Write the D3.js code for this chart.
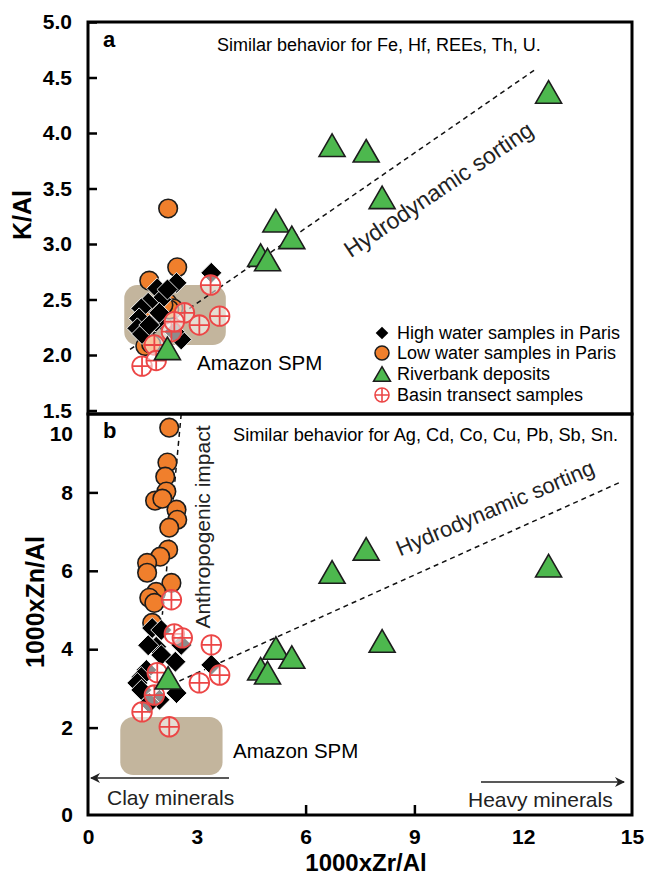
<!DOCTYPE html>
<html><head><meta charset="utf-8">
<script src="https://cdn.jsdelivr.net/npm/d3@7"></script>
<style>
body{margin:0;background:#fff}
svg text{font-family:"Liberation Sans",Arial,Helvetica,sans-serif}
</style>
</head><body>
<svg id="chart" width="647" height="876"></svg>
<script>
// ---------- data ----------
const xTicks = [0, 3, 6, 9, 12, 15];
const yTicksA = [1.5, 2.0, 2.5, 3.0, 3.5, 4.0, 4.5, 5.0];
const yTicksB = [0, 2, 4, 6, 8, 10];

// panel a: K/Al vs 1000xZr/Al
const highA = [[3.40,2.74],[1.91,2.60],[2.44,2.65],[2.02,2.50],[1.66,2.47],[1.47,2.42],[1.41,2.33],[1.88,2.30],[1.36,2.24],[1.49,2.19],[2.57,2.14],[2.38,2.21],[1.97,2.38],[1.69,2.27],[2.19,2.59]];
const lowA = [[2.21,3.32],[2.46,2.79],[1.69,2.67],[2.19,2.47],[2.35,2.42],[2.24,2.41],[1.72,2.38],[1.58,2.08],[1.74,2.10],[2.08,2.45]];
const bankA = [[12.70,4.37],[6.73,3.89],[7.67,3.84],[8.11,3.42],[5.18,3.21],[5.62,3.06],[4.76,2.90],[4.95,2.86],[2.19,2.06]];
const basinA = [[3.38,2.63],[2.66,2.38],[3.07,2.27],[3.63,2.35],[2.30,2.21],[1.83,2.09],[1.49,1.90],[1.88,1.95],[2.38,2.30]];

// panel b: 1000xZn/Al vs 1000xZr/Al
const highB = [[1.77,4.54],[2.02,4.49],[1.88,4.06],[2.57,4.11],[2.02,3.85],[2.41,3.68],[1.61,3.47],[1.47,3.29],[1.36,3.14],[1.47,2.96],[1.97,2.71],[2.44,2.88],[3.40,3.60],[1.69,2.63],[1.66,4.10]];
const lowB = [[2.24,9.65],[2.19,8.76],[2.13,8.40],[2.16,8.02],[1.85,7.79],[2.05,7.84],[2.44,7.56],[2.46,7.30],[2.24,7.10],[2.21,6.54],[1.99,6.36],[1.63,6.20],[1.63,5.95],[2.30,5.69],[1.88,5.46],[1.69,5.31],[1.83,5.18],[1.77,4.67]];
const bankB = [[12.70,6.13],[7.67,6.56],[6.73,5.97],[8.11,4.21],[5.18,4.03],[5.62,3.80],[4.76,3.50],[4.95,3.40],[2.21,3.27]];
const basinB = [[2.30,5.26],[2.38,4.39],[2.60,4.29],[3.40,4.11],[3.63,3.34],[3.07,3.14],[1.91,3.40],[1.83,2.83],[1.49,2.40],[2.24,2.02]];

// trend lines and reference fields
const trendA = [[1.16,2.05],[12.37,4.58]];
const trendB = [[2.52,3.19],[14.70,8.27]];
const anthroB = [[2.57,10.0],[2.05,4.88]];
const amazonA = [[1.0,2.09],[3.8,2.63]];
const amazonB = [[0.89,0.79],[3.71,2.27]];

const legendLabels = ["High water samples in Paris","Low water samples in Paris","Riverbank deposits","Basin transect samples"];

// ---------- layout ----------
const L = 88, R = 632, TOP = 22, MID = 414, BOT = 815;
const svg = d3.select("#chart");
const x = d3.scaleLinear().domain([0,15]).range([L, R]);
const yA = d3.scaleLinear().domain([1.5,5.0]).range([410.5, TOP]);
const yB = d3.scaleLinear().domain([0,10]).range([806, MID]);

const ORANGE = "#f07f2c", GREEN = "#4db84e", RED = "#ec4646", TAN = "#c3b59d";

// custom symbols
const diamondSym = {draw(c, s){ const r = Math.sqrt(s)/2*1.414; c.moveTo(0,-r); c.lineTo(r,0); c.lineTo(0,r); c.lineTo(-r,0); c.closePath(); }};
const triSym = {draw(c, s){ const w = Math.sqrt(s); const h = w*0.866; c.moveTo(0,-h/2); c.lineTo(w/2,h/2); c.lineTo(-w/2,h/2); c.closePath(); }};

function drawPanel(g, y, data){
  const [high, low, bank, basin] = data;
  // circles (low water)
  g.append("g").selectAll("circle").data(low).join("circle")
    .attr("cx", d=>x(d[0])).attr("cy", d=>y(d[1])).attr("r", 9.3)
    .attr("fill", ORANGE).attr("stroke", "#1c1c1c").attr("stroke-width", 1.6);
  // diamonds (high water)
  g.append("g").selectAll("path").data(high).join("path")
    .attr("d", d3.symbol().type(diamondSym).size(220))
    .attr("transform", d=>`translate(${x(d[0])},${y(d[1])})`)
    .attr("fill", "#000").attr("stroke", "#fff").attr("stroke-width", 0.9);
  // crossed circles (basin transect)
  const bg = g.append("g").selectAll("g").data(basin).join("g")
    .attr("transform", d=>`translate(${x(d[0])},${y(d[1])})`);
  bg.append("circle").attr("r", 9.8).attr("fill", "rgba(255,255,255,0.55)")
    .attr("stroke", RED).attr("stroke-width", 1.8);
  bg.append("path").attr("d", "M-9.8,0H9.8M0,-9.8V9.8").attr("stroke", RED).attr("stroke-width", 1.8);
  // triangles (riverbank)
  g.append("g").selectAll("path").data(bank).join("path")
    .attr("d", d3.symbol().type(triSym).size(26*26))
    .attr("transform", d=>`translate(${x(d[0])},${y(d[1])})`)
    .attr("fill", GREEN).attr("stroke", "#1c1c1c").attr("stroke-width", 1.6);
}

function field(g, y, b){
  g.append("rect")
    .attr("x", x(b[0][0])).attr("y", y(b[1][1]))
    .attr("width", x(b[1][0]) - x(b[0][0])).attr("height", y(b[0][1]) - y(b[1][1]))
    .attr("rx", 13).attr("fill", TAN);
}
function dashed(g, y, pts){
  g.append("path").attr("d", d3.line().x(d=>x(d[0])).y(d=>y(d[1]))(pts))
    .attr("fill", "none").attr("stroke", "#111").attr("stroke-width", 1.5)
    .attr("stroke-dasharray", "5,4");
}

// ---------- panel a ----------
const gA = svg.append("g");
field(gA, yA, amazonA);
dashed(gA, yA, trendA);
drawPanel(gA, yA, [highA, lowA, bankA, basinA]);

// ---------- panel b ----------
const gB = svg.append("g");
field(gB, yB, amazonB);
dashed(gB, yB, trendB);
dashed(gB, yB, anthroB);
drawPanel(gB, yB, [highB, lowB, bankB, basinB]);

// ---------- frames ----------
svg.append("rect").attr("x", L).attr("y", TOP).attr("width", R-L).attr("height", MID-TOP)
  .attr("fill", "none").attr("stroke", "#000").attr("stroke-width", 3);
svg.append("rect").attr("x", L).attr("y", MID).attr("width", R-L).attr("height", BOT-MID)
  .attr("fill", "none").attr("stroke", "#000").attr("stroke-width", 3);

// ---------- axes ----------
const axA = svg.append("g").attr("transform", `translate(${L},0)`)
  .call(d3.axisLeft(yA).tickValues(yTicksA).tickFormat(d3.format(".1f")).tickSize(-9).tickPadding(16));
const axB = svg.append("g").attr("transform", `translate(${L},0)`)
  .call(d3.axisLeft(yB).tickValues(yTicksB).tickFormat(d3.format("d")).tickSize(-10).tickPadding(15));
const axX = svg.append("g").attr("transform", `translate(0,${BOT})`)
  .call(d3.axisBottom(x).tickValues(xTicks).tickFormat(d3.format("d")).tickSize(-10).tickPadding(14));
[axA, axB, axX].forEach(a=>{
  a.select(".domain").remove();
  a.selectAll(".tick line").attr("stroke", "#000").attr("stroke-width", 2.5);
  a.selectAll(".tick text").attr("fill", "#000").style("font-size", "21px").style("font-weight", "bold");
});
axB.selectAll(".tick").filter(d=>d===0||d===10).select("line").remove();
axB.selectAll(".tick").filter(d=>d===0).select("text").attr("dy", "0.72em");
axB.selectAll(".tick").filter(d=>d===10).select("text").attr("dy", "1.25em");
axX.selectAll(".tick").filter(d=>d!==6 && d!==9).select("line").remove();

// axis titles
svg.append("text").attr("transform", "translate(31,215) rotate(-90)").attr("text-anchor","middle")
  .style("font-size","25px").style("font-weight","bold").text("K/Al");
svg.append("text").attr("transform", "translate(44,602) rotate(-90)").attr("text-anchor","middle")
  .style("font-size","25px").style("font-weight","bold").text("1000xZn/Al");
svg.append("text").attr("x", 366).attr("y", 871).attr("text-anchor","middle")
  .style("font-size","24px").style("font-weight","bold").text("1000xZr/Al");

// panel letters
svg.append("text").attr("x",103).attr("y",47).style("font-size","22px").style("font-weight","bold").text("a");
svg.append("text").attr("x",103).attr("y",438).style("font-size","22px").style("font-weight","bold").text("b");

// annotations
svg.append("text").attr("x",217).attr("y",51).style("font-size","18px").text("Similar behavior for Fe, Hf, REEs, Th, U.");
svg.append("text").attr("x",233).attr("y",441).style("font-size","18.2px").text("Similar behavior for Ag, Cd, Co, Cu, Pb, Sb, Sn.");
svg.append("text").attr("x",197).attr("y",370).style("font-size","20.5px").text("Amazon SPM");
svg.append("text").attr("x",233).attr("y",758).style("font-size","20.5px").text("Amazon SPM");
svg.append("text").attr("transform","translate(443,196) rotate(-34)").attr("text-anchor","middle")
  .style("font-size","23px").attr("fill","#222").text("Hydrodynamic sorting");
svg.append("text").attr("transform","translate(498,515) rotate(-23)").attr("text-anchor","middle")
  .style("font-size","22px").attr("fill","#222").text("Hydrodynamic sorting");
svg.append("text").attr("transform","translate(210,527) rotate(-90)").attr("text-anchor","middle")
  .style("font-size","21px").attr("fill","#222").text("Anthropogenic impact");
svg.append("text").attr("x",107).attr("y",805).style("font-size","21px").attr("fill","#222").text("Clay minerals");
svg.append("text").attr("x",468).attr("y",807).style("font-size","21px").attr("fill","#222").text("Heavy minerals");

// arrows
const defs = svg.append("defs");
defs.append("marker").attr("id","ah").attr("viewBox","0 0 10 10").attr("refX",9).attr("refY",5)
  .attr("markerWidth",10).attr("markerHeight",10).attr("markerUnits","userSpaceOnUse").attr("orient","auto")
  .append("path").attr("d","M0,0L10,5L0,10L3,5Z").attr("fill","#222");
svg.append("line").attr("x1",229).attr("y1",778).attr("x2",91).attr("y2",778)
  .attr("stroke","#222").attr("stroke-width",1.5).attr("marker-end","url(#ah)");
svg.append("line").attr("x1",481).attr("y1",782).attr("x2",624).attr("y2",782)
  .attr("stroke","#222").attr("stroke-width",1.5).attr("marker-end","url(#ah)");

// legend
const lg = svg.append("g");
const ly = [333, 353, 374, 395];
lg.append("path").attr("d", d3.symbol().type(diamondSym).size(80)).attr("transform",`translate(382,${ly[0]})`).attr("fill","#000");
lg.append("circle").attr("cx",382).attr("cy",ly[1]).attr("r",7).attr("fill",ORANGE).attr("stroke","#1c1c1c").attr("stroke-width",1.5);
lg.append("path").attr("d", d3.symbol().type(triSym).size(17*17)).attr("transform",`translate(382,${ly[2]})`).attr("fill",GREEN).attr("stroke","#1c1c1c").attr("stroke-width",1.5);
lg.append("circle").attr("cx",382).attr("cy",ly[3]).attr("r",7).attr("fill","#fff").attr("stroke",RED).attr("stroke-width",1.6);
lg.append("path").attr("d",`M375,${ly[3]}H389M382,${ly[3]-7}V${ly[3]+7}`).attr("stroke",RED).attr("stroke-width",1.6);
lg.selectAll("text.l").data(legendLabels).join("text").attr("class","l")
  .attr("x",397).attr("y",(d,i)=>ly[i]+6).style("font-size","18px").text(d=>d);
</script>
</body></html>
